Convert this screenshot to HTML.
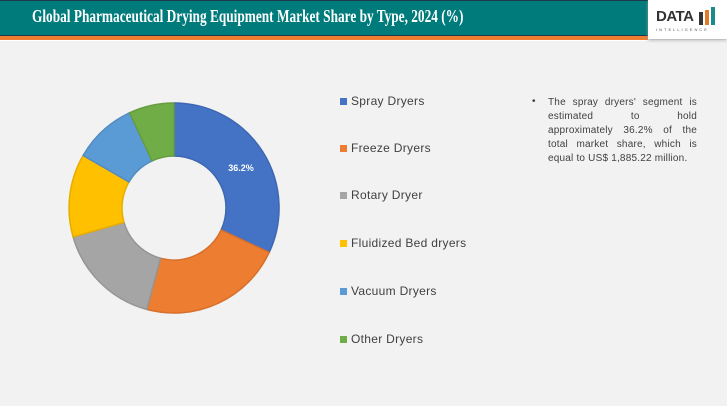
<!DOCTYPE html>
<html><head><meta charset="utf-8"><style>
body{margin:0;width:727px;height:406px;overflow:hidden;background:#fff;font-family:"Liberation Sans",sans-serif}
.hdr{position:absolute;left:0;top:0;width:648px;height:35px;background:#007b7b;border-top:1px solid #1e3a4a;box-sizing:border-box}
.hdr span{position:absolute;left:32px;top:5px;font-family:"Liberation Serif",serif;font-weight:bold;color:#fff;font-size:18px;white-space:nowrap;transform:scaleX(0.74);transform-origin:0 0}
.orange{position:absolute;left:0;top:35px;width:648px;height:4px;background:#ed7d31;border-top:1px solid #1e3a4a}
.logo{position:absolute;left:648px;top:0;width:79px;height:39px;background:#fff;box-shadow:0 1px 3px #999}
.panel{position:absolute;left:0;top:41px;width:727px;height:365px;background:#f2f2f2}
.leg{position:absolute;left:340px;font-size:12px;color:#404040;letter-spacing:0.3px}
.leg i{display:inline-block;width:7px;height:7px;margin-right:4px}
.note{position:absolute;left:548px;top:96px;width:149px;font-size:10px;line-height:14px;color:#404040;letter-spacing:0.2px}
.note div{text-align:justify;text-align-last:justify;white-space:nowrap;display:flex;justify-content:space-between}
</style></head><body>
<div class="panel"></div>
<div class="hdr"><span>Global Pharmaceutical Drying Equipment Market Share by Type, 2024 (%)</span></div>
<div class="orange"></div>
<div class="logo"><div style="position:absolute;left:8px;top:8px;font-weight:bold;font-size:15px;color:#333;letter-spacing:-0.5px">DATA</div>
<div style="position:absolute;left:51px;top:12px;width:4px;height:13px;background:#333"></div>
<div style="position:absolute;left:57px;top:10px;width:4px;height:15px;background:#e07b2c"></div>
<div style="position:absolute;left:63px;top:7px;width:4px;height:18px;background:#1a8a8a"></div>
<div style="position:absolute;left:8px;top:27px;font-size:4px;color:#555;letter-spacing:2px">INTELLIGENCE</div></div>
<svg style="position:absolute;left:0;top:0" width="727" height="406">
<g stroke-width="1.5">
<path d="M174,103 A105,105 0 0 1 269.2,252.4 L221.1,230 A52,52 0 0 0 174,156Z" fill="#4472c4" stroke="#3e67b1"/>
<path d="M269.2,252.4 A105,105 0 0 1 146.8,309.4 L160.5,258.2 A52,52 0 0 0 221.1,230Z" fill="#ed7d31" stroke="#d6702c"/>
<path d="M146.8,309.4 A105,105 0 0 1 73.1,236.9 L124,222.3 A52,52 0 0 0 160.5,258.2Z" fill="#a5a5a5" stroke="#959595"/>
<path d="M73.1,236.9 A105,105 0 0 1 83.1,155.5 L129,182 A52,52 0 0 0 124,222.3Z" fill="#ffc000" stroke="#e6ad00"/>
<path d="M83.1,155.5 A105,105 0 0 1 129.6,112.8 L152,160.9 A52,52 0 0 0 129,182Z" fill="#5b9bd5" stroke="#528cc0"/>
<path d="M129.6,112.8 A105,105 0 0 1 174,103 L174,156 A52,52 0 0 0 152,160.9Z" fill="#70ad47" stroke="#659c40"/>
</g>
<text x="241" y="171" fill="#fff" font-size="9" font-weight="bold" text-anchor="middle" font-family="Liberation Sans">36.2%</text>
</svg>
<div class="leg" style="top:94px"><i style="background:#4472c4"></i>Spray Dryers</div>
<div class="leg" style="top:141px"><i style="background:#ed7d31"></i>Freeze Dryers</div>
<div class="leg" style="top:188px"><i style="background:#a5a5a5"></i>Rotary Dryer</div>
<div class="leg" style="top:236px"><i style="background:#ffc000"></i>Fluidized Bed dryers</div>
<div class="leg" style="top:284px"><i style="background:#5b9bd5"></i>Vacuum Dryers</div>
<div class="leg" style="top:332px"><i style="background:#70ad47"></i>Other Dryers</div>
<div style="position:absolute;left:532px;top:96px;font-size:10px;color:#404040">•</div>
<div class="note">
<div><span>The</span><span>spray</span><span>dryers'</span><span>segment</span><span>is</span></div>
<div><span>estimated</span><span>to</span><span>hold</span></div>
<div><span>approximately</span><span>36.2%</span><span>of</span><span>the</span></div>
<div><span>total</span><span>market</span><span>share,</span><span>which</span><span>is</span></div>
<div style="justify-content:flex-start">equal to US$ 1,885.22 million.</div>
</div>
</body></html>
